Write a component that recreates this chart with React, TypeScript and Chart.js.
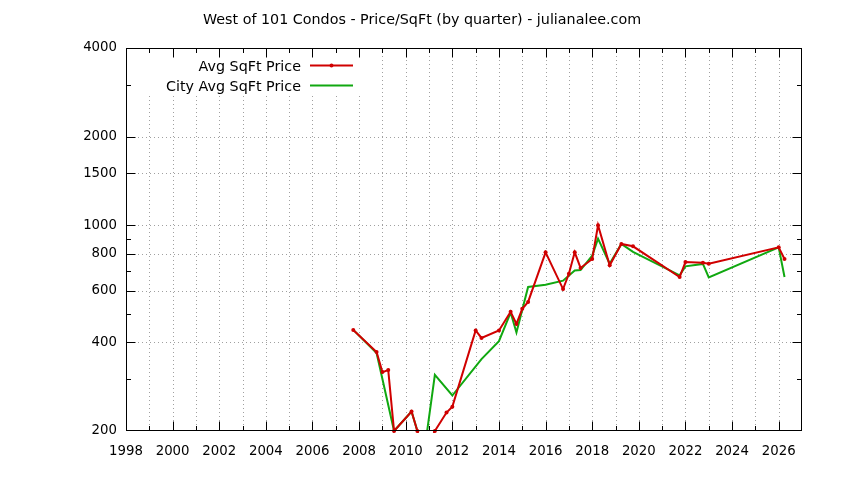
import React, { useEffect, useRef } from "react";
import { Chart, registerables } from "chart.js";

Chart.register(...registerables);

const chartTitle = "West of 101 Condos - Price/SqFt (by quarter) - julianalee.com";
const seriesNames = ["Avg SqFt Price", "City Avg SqFt Price"];

const redX = [2007.75, 2008.75, 2009.0, 2009.25, 2009.5, 2010.25, 2010.5, 2010.75, 2011.25, 2011.75, 2012.0, 2013.0, 2013.25, 2014.0, 2014.5, 2014.75, 2015.0, 2015.25, 2016.0, 2016.75, 2017.0, 2017.25, 2017.5, 2018.0, 2018.25, 2018.75, 2019.25, 2019.75, 2021.75, 2022.0, 2022.75, 2023.0, 2026.0, 2026.25];
const redY = [441, 371, 317, 322, 200, 233, 200, 165, 200, 231, 242, 439, 414, 439, 508, 462, 520, 549, 809, 607, 684, 809, 716, 768, 1000, 731, 864, 848, 667, 750, 745, 740, 841, 768];

const greenX = [2007.75, 2008.75, 2009.5, 2010.25, 2010.5, 2010.75, 2011.25, 2012.0, 2013.25, 2014.0, 2014.5, 2014.75, 2015.25, 2016.0, 2016.75, 2017.25, 2017.5, 2018.0, 2018.25, 2018.75, 2019.25, 2019.75, 2021.75, 2022.0, 2022.75, 2023.0, 2026.0, 2026.25];
const greenY = [441, 368, 200, 233, 200, 160, 310, 264, 351, 404, 505, 432, 617, 628, 648, 702, 704, 788, 901, 740, 864, 812, 676, 725, 739, 665, 841, 667];

const xMin = 1998;
const xMax = 2027;
const xLabels = [1998, 2000, 2002, 2004, 2006, 2008, 2010, 2012, 2014, 2016, 2018, 2020, 2022, 2024, 2026];

const yMin = 200;
const yMax = 4000;
const yLabels = [200, 400, 600, 800, 1000, 1500, 2000, 4000];
const yMinorTicks = [300, 500, 700, 900, 3000];

const RED = "#d00000";
const GREEN = "#10a810";
const FONT = "DejaVu Sans";

function allYears(): number[] {
  const out: number[] = [];
  for (let yr = xMin; yr <= xMax; yr++) out.push(yr);
  return out;
}

const gnuplotPlugin = {
  id: "gnuplotFrame",
  beforeDatasetsDraw(chart: any) {
    const { ctx, chartArea: a, scales } = chart;
    const x = scales.x;
    const y = scales.y;
    ctx.save();
    ctx.strokeStyle = "#a0a0a0";
    ctx.lineWidth = 1;
    ctx.setLineDash([1, 3]);
    for (const yr of allYears()) {
      if (yr === xMin || yr === xMax) continue;
      const px = Math.round(x.getPixelForValue(yr)) + 0.5;
      ctx.beginPath();
      ctx.moveTo(px, a.top);
      ctx.lineTo(px, a.bottom);
      ctx.stroke();
    }
    for (const v of yLabels) {
      if (v === yMin || v === yMax) continue;
      const py = Math.round(y.getPixelForValue(v)) + 0.5;
      ctx.beginPath();
      ctx.moveTo(a.left, py);
      ctx.lineTo(a.right, py);
      ctx.stroke();
    }
    ctx.setLineDash([]);
    // opaque key box
    ctx.fillStyle = "#ffffff";
    ctx.fillRect(a.left + 1, a.top + 1, 372 - a.left, 95 - a.top);
    ctx.restore();
  },
  afterDatasetsDraw(chart: any) {
    const { ctx, chartArea: a, scales } = chart;
    const x = scales.x;
    const y = scales.y;
    ctx.save();
    ctx.strokeStyle = "#000";
    ctx.lineWidth = 1;
    const L = Math.round(a.left) + 0.5;
    const R = Math.round(a.right) - 0.5;
    const T = Math.round(a.top) + 0.5;
    const B = Math.round(a.bottom) - 0.5;
    // ticks
    ctx.beginPath();
    for (const yr of allYears()) {
      const px = Math.min(R, Math.max(L, Math.round(x.getPixelForValue(yr)) + 0.5));
      const len = xLabels.includes(yr) ? 9 : 4.5;
      ctx.moveTo(px, B);
      ctx.lineTo(px, B - len);
      ctx.moveTo(px, T);
      ctx.lineTo(px, T + len);
    }
    for (const v of yLabels.concat(yMinorTicks)) {
      const py = Math.min(B, Math.max(T, Math.round(y.getPixelForValue(v)) + 0.5));
      const len = yLabels.includes(v) ? 9 : 4.5;
      ctx.moveTo(L, py);
      ctx.lineTo(L + len, py);
      ctx.moveTo(R, py);
      ctx.lineTo(R - len, py);
    }
    ctx.stroke();
    ctx.strokeRect(L, T, R - L, B - T);

    // legend
    ctx.font = `14.3px "${FONT}"`;
    ctx.fillStyle = "#000";
    ctx.textAlign = "right";
    ctx.textBaseline = "middle";
    const ds = chart.data.datasets;
    const rows = [65.5, 85.5];
    ds.forEach((d: any, i: number) => {
      const ry = rows[i];
      ctx.fillText(d.label, 301, ry + 1.5);
      ctx.strokeStyle = d.borderColor;
      ctx.lineWidth = 2;
      ctx.beginPath();
      ctx.moveTo(310, ry);
      ctx.lineTo(353, ry);
      ctx.stroke();
      if (d.pointRadius > 0) {
        ctx.fillStyle = d.borderColor;
        ctx.beginPath();
        ctx.arc(331.5, ry, d.pointRadius, 0, Math.PI * 2);
        ctx.fill();
        ctx.fillStyle = "#000";
      }
    });

    // title
    ctx.textAlign = "center";
    ctx.fillStyle = "#000";
    ctx.fillText(chartTitle, 422, 20.5);
    ctx.restore();
  },
};

export default function App() {
  const ref = useRef<HTMLCanvasElement | null>(null);

  useEffect(() => {
    document.body.style.margin = "0";
    const canvas = ref.current;
    if (!canvas) return;
    Chart.defaults.font.family = FONT;
    Chart.defaults.font.size = 13;
    Chart.defaults.color = "#000";

    const chart = new Chart(canvas, {
      type: "line",
      data: {
        datasets: [
          {
            label: seriesNames[0],
            data: redX.map((xv, i) => ({ x: xv, y: redY[i] })),
            borderColor: RED,
            backgroundColor: RED,
            borderWidth: 2,
            pointRadius: 2,
            pointBorderWidth: 0,
            pointBackgroundColor: RED,
            tension: 0,
            clip: { left: 0, right: 0, top: 0, bottom: 2 },
          },
          {
            label: seriesNames[1],
            data: greenX.map((xv, i) => ({ x: xv, y: greenY[i] })),
            borderColor: GREEN,
            backgroundColor: GREEN,
            borderWidth: 2,
            pointRadius: 0,
            tension: 0,
            clip: 0,
          },
        ] as any,
      },
      options: {
        animation: false,
        responsive: false,
        layout: { padding: { top: 48, right: 42, bottom: 0, left: 0 } },
        plugins: {
          legend: { display: false },
          title: { display: false },
          tooltip: { enabled: false },
        },
        scales: {
          x: {
            type: "linear",
            min: xMin,
            max: xMax,
            grid: { display: false, drawTicks: false },
            border: { display: false },
            afterBuildTicks: (s: any) => {
              s.ticks = allYears().map((v) => ({ value: v }));
            },
            afterFit: (s: any) => {
              s.height = 49;
            },
            ticks: {
              autoSkip: false,
              maxRotation: 0,
              padding: 13,
              color: "#000",
              font: { family: FONT, size: 13.3 },
              callback: (v: any) => (xLabels.includes(Number(v)) ? String(v) : ""),
            },
          },
          y: {
            type: "logarithmic",
            min: yMin,
            max: yMax,
            grid: { display: false, drawTicks: false },
            border: { display: false },
            afterBuildTicks: (s: any) => {
              s.ticks = yLabels.concat(yMinorTicks).sort((p, q) => p - q).map((v) => ({ value: v }));
            },
            afterFit: (s: any) => {
              s.width = 126;
            },
            ticks: {
              autoSkip: false,
              padding: 9,
              color: "#000",
              font: { family: FONT, size: 13.3 },
              callback: (v: any) => (yLabels.includes(Number(v)) ? String(v) : ""),
            },
          },
        },
      } as any,
      plugins: [gnuplotPlugin],
    });
    return () => chart.destroy();
  }, []);

  return (
    <div style={{ width: 844, height: 480, position: "relative", background: "#fff" }}>
      <canvas ref={ref} width={844} height={480} style={{ display: "block" }} />
    </div>
  );
}
